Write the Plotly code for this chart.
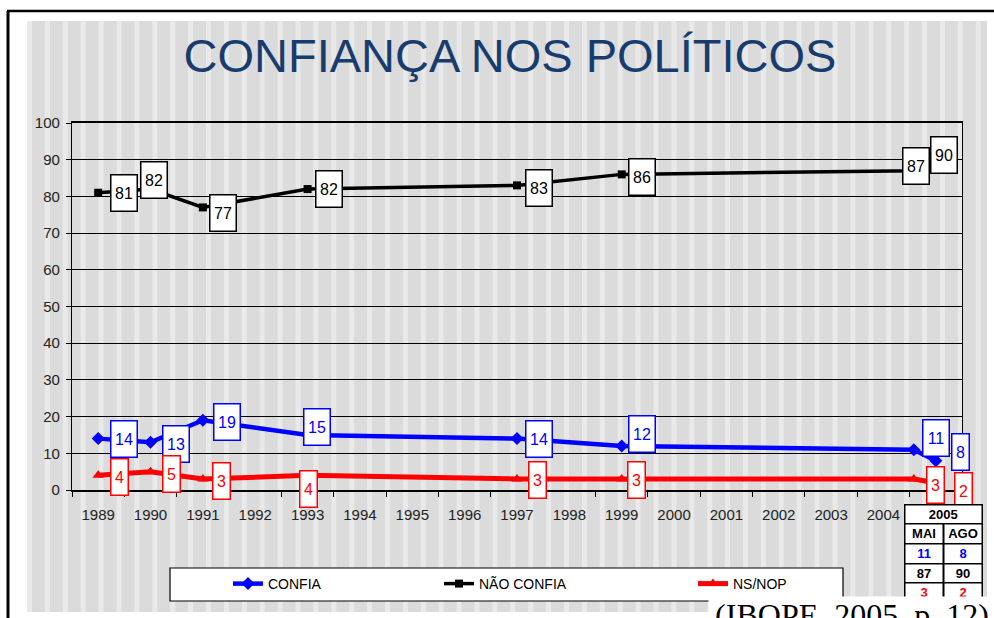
import plotly.graph_objects as go

# ---------------- data ----------------
axis_years = list(range(1989, 2005))
axis_labels = [str(y) for y in axis_years]

periods = ["1989", "1990", "1991", "1993", "1997", "1999", "2005 MAI", "2005 AGO"]
x_pos = [1989, 1990, 1991, 1993, 1997, 1999, 2004.58, 2005.0]
confia = [14, 13, 19, 15, 14, 12, 11, 8]
nao_confia = [81, 82, 77, 82, 83, 86, 87, 90]
ns_nop = [4, 5, 3, 4, 3, 3, 3, 2]

table_year = "2005"
table_months = ["MAI", "AGO"]

title_text = "CONFIANÇA NOS POLÍTICOS"
source_text = "(IBOPE, 2005, p. 12)"

# ---------------- geometry helpers ----------------
W, H = 994, 618
def px(xp):
    return xp / W
def py(yp):
    return 1 - yp / H

BLUE, BLACK, RED = "#0000ff", "#000000", "#ff0000"
FONT = "Liberation Sans, Arial, sans-serif"

# label offsets (pixels) for each point, per series
off_confia = [(26, 0), (25, -2), (24, -2), (9, 8), (22, 0), (20, 12), (22, 12), (25, 9)]
off_nao = [(26, 0), (3, 9), (20, -6), (21, 0), (22, -3), (20, -3), (2, 5), (8, 5)]
off_ns = [(21, -2), (21, -2), (19, -2), (1, -14), (20, -1), (15, -1), (22, -6), (28, -8)]

fig = go.Figure()

series = [
    ("CONFIA", confia, BLUE, "diamond", 10, 4.5, off_confia, "legend"),
    ("NÃO CONFIA", nao_confia, BLACK, "square", 8, 3.5, off_nao, "legend2"),
    ("NS/NOP", ns_nop, RED, "triangle-up", 10, 5, off_ns, "legend3"),
]

annotations = []
for name, vals, col, sym, msize, lw, offs, leg in series:
    fig.add_trace(go.Scatter(
        x=x_pos, y=vals, mode="lines+markers", name=name,
        line=dict(color=col, width=lw),
        marker=dict(symbol=sym, size=msize, color=col),
        legend=leg, cliponaxis=False,
    ))
    for xv, yv, (dx, dy) in zip(x_pos, vals, offs):
        annotations.append(dict(
            x=xv, y=yv, xref="x", yref="y", text=str(yv), showarrow=False,
            xshift=dx, yshift=dy, bgcolor="white", bordercolor=col,
            borderwidth=1.5, borderpad=0, width=25 if yv >= 10 else 16, height=35,
            font=dict(family=FONT, size=16, color=col),
        ))

# ---------------- 2005 table (cells built from the last two values of each series) ----------------
def cell(x0, y0, w, h, text, color):
    return dict(x=px(x0), y=py(y0), xref="paper", yref="paper", xanchor="left", yanchor="top",
                text=text, showarrow=False, bgcolor="white", bordercolor="black",
                borderwidth=1.5, borderpad=0, width=w, height=h,
                font=dict(family=FONT, size=13, color=color))

tab_left, tab_col_w = 904, 38.5
row_tops = [504, 523, 543, 563, 582]
annotations.append(cell(tab_left, row_tops[0], 2 * tab_col_w - 1.5, 17.5,
                        "<b>" + table_year + "</b>", "black"))
table_rows = [(table_months, ["black", "black"]),
              ([str(v) for v in confia[6:8]], [BLUE, BLUE]),
              ([str(v) for v in nao_confia[6:8]], [BLACK, BLACK]),
              ([str(v) for v in ns_nop[6:8]], [RED, RED])]
for r, (texts, cols) in enumerate(table_rows):
    top = row_tops[r + 1]
    h = (row_tops[r + 2] - top if r + 2 < len(row_tops) else 20) - 1.5
    for c in range(2):
        annotations.append(cell(tab_left + c * tab_col_w, top, tab_col_w - 1.5, h,
                                "<b>" + texts[c] + "</b>", cols[c]))

# source caption (white box covering bottom right, text clipped at the page bottom)
annotations.append(dict(
    x=px(708), y=py(596), xref="paper", yref="paper", xanchor="left", yanchor="top",
    text=source_text, showarrow=False, bgcolor="white", width=286, height=21,
    align="center", valign="top", borderpad=0,
    font=dict(family="Liberation Serif, Times New Roman, serif", size=32, color="black"),
))

# ---------------- decorations: striped background, frame ----------------
shapes = []
shapes.append(dict(type="rect", xref="paper", yref="paper", x0=px(27), x1=px(987),
                   y0=py(612), y1=py(21), fillcolor="#dbdbdb", line=dict(width=0), layer="below"))
s = 27.0
while s < 985:
    shapes.append(dict(type="rect", xref="paper", yref="paper", x0=px(s), x1=px(min(s + 5, 987)),
                       y0=py(612), y1=py(21), fillcolor="#e9e9e9", line=dict(width=0), layer="below"))
    s += 17.9
# legend box
shapes.append(dict(type="rect", xref="paper", yref="paper", x0=px(170), x1=px(843),
                   y0=py(601), y1=py(568), fillcolor="white", line=dict(color="black", width=1.2),
                   layer="below"))
# outer frame lines
shapes.append(dict(type="line", xref="paper", yref="paper", x0=px(7), x1=1, y0=py(11), y1=py(11),
                   line=dict(color="black", width=2.5)))
shapes.append(dict(type="line", xref="paper", yref="paper", x0=px(8), x1=px(8), y0=py(11), y1=0,
                   line=dict(color="black", width=3)))

boundaries = [1988.5 + k for k in range(18)]

fig.update_layout(
    width=W, height=H, autosize=False,
    margin=dict(l=0, r=0, t=0, b=0, pad=0),
    paper_bgcolor="white", plot_bgcolor="rgba(0,0,0,0)",
    title=dict(text=title_text, x=px(510), y=py(56), xanchor="center", yanchor="middle",
               xref="paper", yref="paper", automargin=False,
               font=dict(family=FONT, size=47, color="#183c6e")),
    xaxis=dict(domain=[px(72), px(962)], range=[1988.5, 2005.5], anchor="y",
               tickmode="array", tickvals=axis_years, ticktext=axis_labels, ticks="",
               showline=True, linecolor="black", linewidth=1.5, mirror=True,
               showgrid=False, zeroline=False, ticklabelstandoff=10, automargin=False,
               tickfont=dict(family=FONT, size=15, color="#222"),
               minor=dict(tickmode="array", tickvals=boundaries, ticks="outside", ticklen=5,
                          tickcolor="black", tickwidth=1.2, showgrid=False)),
    xaxis2=dict(domain=[px(72), px(962)], range=[1988.5, 2005.5], anchor="y", overlaying="x",
                tickmode="array", tickvals=boundaries, ticks="inside", ticklen=5,
                tickcolor="black", tickwidth=1.2, showticklabels=False, automargin=False,
                showline=False, showgrid=False, zeroline=False),
    yaxis=dict(domain=[py(490), py(123)], range=[0, 100], dtick=10, tick0=0,
               showgrid=True, gridcolor="black", gridwidth=1,
               showline=True, linecolor="black", linewidth=1.2, mirror=True,
               ticks="outside", ticklen=5, tickcolor="black", zeroline=False,
               ticklabelstandoff=3, automargin=False,
               tickfont=dict(family=FONT, size=15, color="#222")),
    legend=dict(orientation="h", x=px(228), y=py(584), xanchor="left", yanchor="middle",
                bgcolor="rgba(0,0,0,0)", font=dict(family=FONT, size=14, color="black")),
    legend2=dict(orientation="h", x=px(439), y=py(584), xanchor="left", yanchor="middle",
                 bgcolor="rgba(0,0,0,0)", font=dict(family=FONT, size=14, color="black")),
    legend3=dict(orientation="h", x=px(693), y=py(584), xanchor="left", yanchor="middle",
                 bgcolor="rgba(0,0,0,0)", font=dict(family=FONT, size=14, color="black")),
    annotations=annotations,
    shapes=shapes,
    showlegend=True,
)

fig.write_html("out.html", config={"displayModeBar": False},
               post_script="document.body.style.margin='0px';")
